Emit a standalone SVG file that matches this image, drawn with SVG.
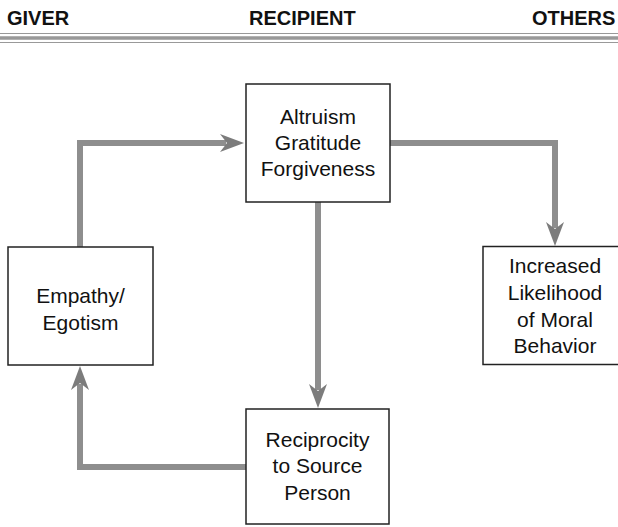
<svg xmlns="http://www.w3.org/2000/svg" width="618" height="527" viewBox="0 0 618 527">
  <style>
    .hdr { font-family: "Liberation Sans", Arial, sans-serif; font-weight: bold; font-size: 20px; fill: #111; }
    .lbl { font-family: "Liberation Sans", Arial, sans-serif; font-size: 21px; fill: #111; text-anchor: middle; }
    .box { fill: #fff; stroke: #222; stroke-width: 1.5; }
    .flow { fill: none; stroke: #8e8e8e; stroke-width: 6; marker-end: url(#head); }
    .rule { stroke: #999; }
  </style>
  <defs>
    <marker id="head" markerUnits="userSpaceOnUse" viewBox="0 0 24 18" markerWidth="24" markerHeight="18" refX="6" refY="9" orient="auto">
      <path d="M0,0 L24,9 L0,18 L7,9 Z" fill="#7c7c7c"/>
    </marker>
  </defs>

  <rect width="618" height="527" fill="#fff"/>

  <!-- column headings -->
  <g id="headings">
    <text class="hdr" x="7" y="25">GIVER</text>
    <text class="hdr" x="249" y="25">RECIPIENT</text>
    <text class="hdr" x="532" y="25">OTHERS</text>
    <line class="rule" x1="0" y1="33.5" x2="618" y2="33.5" stroke-width="1"/>
    <line class="rule" x1="0" y1="38" x2="618" y2="38" stroke-width="3.5" stroke="#8c8c8c"/>
    <line class="rule" x1="0" y1="42.5" x2="618" y2="42.5" stroke-width="1"/>
  </g>

  <!-- connectors -->
  <g id="connectors">
    <path class="flow" d="M80,247 V143 H226"/>
    <path class="flow" d="M390,143 H555 V228"/>
    <path class="flow" d="M318,202 V390"/>
    <path class="flow" d="M246,467 H80 V384"/>
  </g>

  <g id="virtues">
    <rect class="box" x="246" y="84" width="144" height="118"/>
    <text class="lbl" x="318" y="124">Altruism</text>
    <text class="lbl" x="318" y="150">Gratitude</text>
    <text class="lbl" x="318" y="176">Forgiveness</text>
  </g>

  <g id="empathy">
    <rect class="box" x="8" y="247" width="145" height="118"/>
    <text class="lbl" x="80.5" y="303">Empathy/</text>
    <text class="lbl" x="80.5" y="330">Egotism</text>
  </g>

  <g id="moral">
    <rect class="box" x="483" y="246.5" width="150" height="118"/>
    <text class="lbl" x="555" y="273">Increased</text>
    <text class="lbl" x="555" y="300">Likelihood</text>
    <text class="lbl" x="555" y="327">of Moral</text>
    <text class="lbl" x="555" y="353">Behavior</text>
  </g>

  <g id="reciprocity">
    <rect class="box" x="246" y="409" width="143" height="115"/>
    <text class="lbl" x="317.5" y="447">Reciprocity</text>
    <text class="lbl" x="317.5" y="473">to Source</text>
    <text class="lbl" x="317.5" y="500">Person</text>
  </g>
</svg>
